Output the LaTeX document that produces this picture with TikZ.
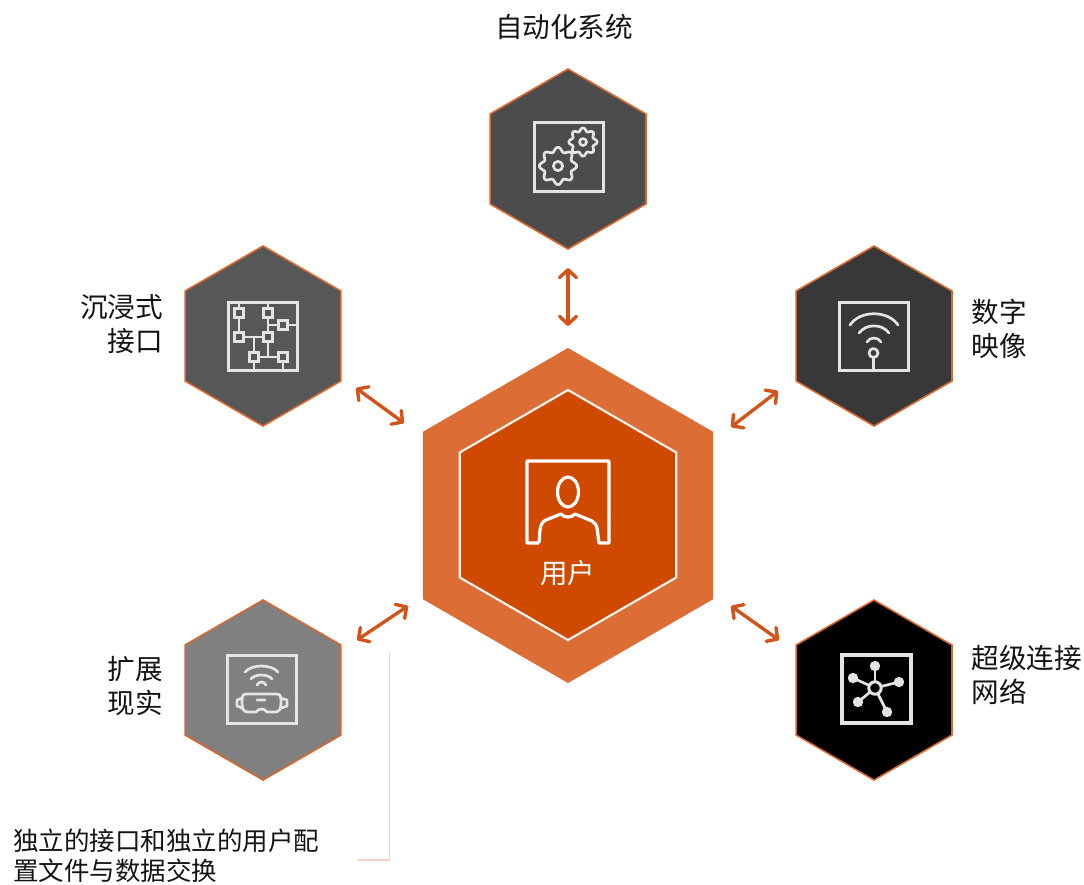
\documentclass[tikz,border=0pt]{standalone}
\usepackage{fontspec}
\setmainfont{Noto Sans CJK SC}
\usetikzlibrary{shapes.geometric,arrows.meta}
\definecolor{hubouter}{HTML}{DB6D35}
\definecolor{hubinner}{HTML}{CF4A00}
\definecolor{edgeor}{HTML}{D9672E}
\definecolor{arrowor}{HTML}{D2541A}
\definecolor{iconw}{HTML}{E4E4E4}
\definecolor{leader}{HTML}{F6D3C8}
\tikzset{
  hexa/.style={regular polygon,regular polygon sides=6,shape border rotate=30,inner sep=0pt,outer sep=0pt},
  sat/.style={hexa,minimum size=180pt,draw=edgeor,line width=1.6pt},
  lbl/.style={inner sep=0pt,font=\fontsize{27.6}{34}\selectfont,text=black!92},
  link/.style={draw=arrowor,line width=3.4pt,{Straight Barb[length=8pt,width=17pt,round]}-{Straight Barb[length=8pt,width=17pt,round]}},
  icon/.style={draw=iconw,line width=3pt},
  thin icon/.style={draw=iconw,line width=2.7pt,line cap=round,line join=round}
}
\newcommand\gearshape[3]{\draw[thin icon] plot[domain=0:360,samples=145,variable=\t]
  ({#1+(#3+0.13*#3*cos(8*\t))*cos(\t)},{#2+(#3+0.13*#3*cos(8*\t))*sin(\t)}) -- cycle;
  \draw[thin icon] (#1,#2) circle[radius=0.28*#3];}
\begin{document}
\begin{tikzpicture}[x=1pt,y=-1pt]
\useasboundingbox (0,0) rectangle (1084,884);
% hexagons
\node[hexa,minimum size=335pt,fill=hubouter] (hub) at (568,515.5) {};
\node[hexa,minimum size=250pt,fill=hubinner,draw=white!90!hubouter,line width=2.2pt] (hubin) at (568,515) {};
\node[sat,fill=black!70] (auto) at (568,159) {};
\node[sat,fill=black!66] (immersive) at (263,336) {};
\node[sat,fill=black!78] (twin) at (874,336) {};
\node[sat,fill=black!50] (xr) at (263,690) {};
\node[sat,fill=black] (hyper) at (874,690) {};
% labels
\node[lbl,anchor=center] (t1) at (564,27) {自动化系统};
\node[lbl,anchor=east,align=right] (t2) at (163,324) {沉浸式\\接口};
\node[lbl,anchor=west,align=left] (t3) at (971.5,329) {数字\\映像};
\node[lbl,anchor=east,align=right] (t4) at (163,686) {扩展\\现实};
\node[lbl,anchor=west,align=left] (t5) at (971.5,675) {超级连接\\网络};
\node[inner sep=0pt,anchor=west,align=left,font=\fontsize{25.5}{30}\selectfont,text=black!92] (t6) at (13,856) {独立的接口和独立的用户配\\置文件与数据交换};
\node[inner sep=0pt,font=\fontsize{27.5}{30}\selectfont,text=white] (t7) at (567.5,573) {用户};
% arrows
\coordinate (a1) at (568,268); \coordinate (a2) at (568,326);
\coordinate (b1) at (356,388); \coordinate (b2) at (404,423);
\coordinate (c1) at (778,391); \coordinate (c2) at (731,427);
\coordinate (d1) at (357,640); \coordinate (d2) at (408,606);
\coordinate (e1) at (731,606); \coordinate (e2) at (779,640);
\draw[link] (a1) -- (a2);
\draw[link] (b1) -- (b2);
\draw[link] (c1) -- (c2);
\draw[link] (d1) -- (d2);
\draw[link] (e1) -- (e2);
% leader
\coordinate (l1) at (389.5,652); \coordinate (l2) at (389.5,860); \coordinate (l3) at (358,860);
\draw[leader,line width=1.8pt] (l1) -- (l2) -- (l3);
% hub icon
\draw[draw=white,line width=3.2pt,line join=round]
  (539,543) -- (527,543) -- (527,461) -- (609,461) -- (609,543) -- (599,543)
  .. controls (597,530) and (598,524) .. (592,521) -- (575,514)
  .. controls (572,518) and (564,518) .. (561,514) -- (546,520)
  .. controls (539,523) and (540,532) .. (539,543);
\draw[draw=white,line width=3.2pt] (568,492) ellipse[x radius=10.5,y radius=15];
% automation icon
\draw[icon] (534,122) rectangle (603,191);
\gearshape{558}{166}{16.5}
\gearshape{583}{142}{12.5}
% immersive icon
\draw[icon] (228,302) rectangle (297,370);
\draw[thin icon,line cap=butt] (239,302) -- (239,337) -- (268,337) -- (268,302)
  (268,325) -- (297,325) (254,337) -- (254,370) (268,337) -- (268,357) (254,357) -- (283,357) -- (283,370);
\foreach \p/\q in {239/313,268/313,283/325,239/337,268/337,254/357,283/357}
  \draw[draw=iconw,line width=2.7pt,fill=black!66] (\p-4.5,\q-4.5) rectangle (\p+4.5,\q+4.5);
% twin icon
\draw[icon] (839,302) rectangle (908,370);
\draw[thin icon] (850,325) .. controls (860,310) and (888,310) .. (898,325)
  (859,333) .. controls (866,323.5) and (882,323.5) .. (889,333)
  (867,342) .. controls (870,336.7) and (878,336.7) .. (881,342)
  (873.5,358) -- (873.5,370);
\draw[thin icon] (873.5,353) circle[radius=4.5];
% xr icon
\draw[icon] (227,655) rectangle (296,723);
\draw[thin icon] (245,672) .. controls (252,664) and (271,664) .. (278,672)
  (251,679) .. controls (255,673.7) and (268,673.7) .. (272,679)
  (257,685) .. controls (259,681) and (264,681) .. (266,685)
  (257,700) -- (265,700);
\draw[thin icon] (246,694) -- (277,694) .. controls (281,694) and (281,698) .. (281,703)
  .. controls (281,709) and (279,712) .. (275,712) -- (267,712)
  .. controls (264,708) and (259,708) .. (256,712) -- (248,712)
  .. controls (244,712) and (242,709) .. (242,703) .. controls (242,698) and (242,694) .. (246,694) -- cycle
  (242,698) -- (237,700) -- (237,706) -- (242,708)
  (281,698) -- (287,700) -- (287,706) -- (281,708);
% hyper icon
\draw[icon,line width=3.4pt] (842,655) rectangle (911,723);
\foreach \p/\q in {875/666,853/678,899/682,858/702,887/712}{
  \fill[iconw] (\p,\q) circle[radius=5.2];
  \draw[thin icon] (875,688) -- (\p,\q);
}
\draw[draw=iconw,line width=3pt,fill=black] (875,688) circle[radius=6.2];
\end{tikzpicture}
\end{document}
